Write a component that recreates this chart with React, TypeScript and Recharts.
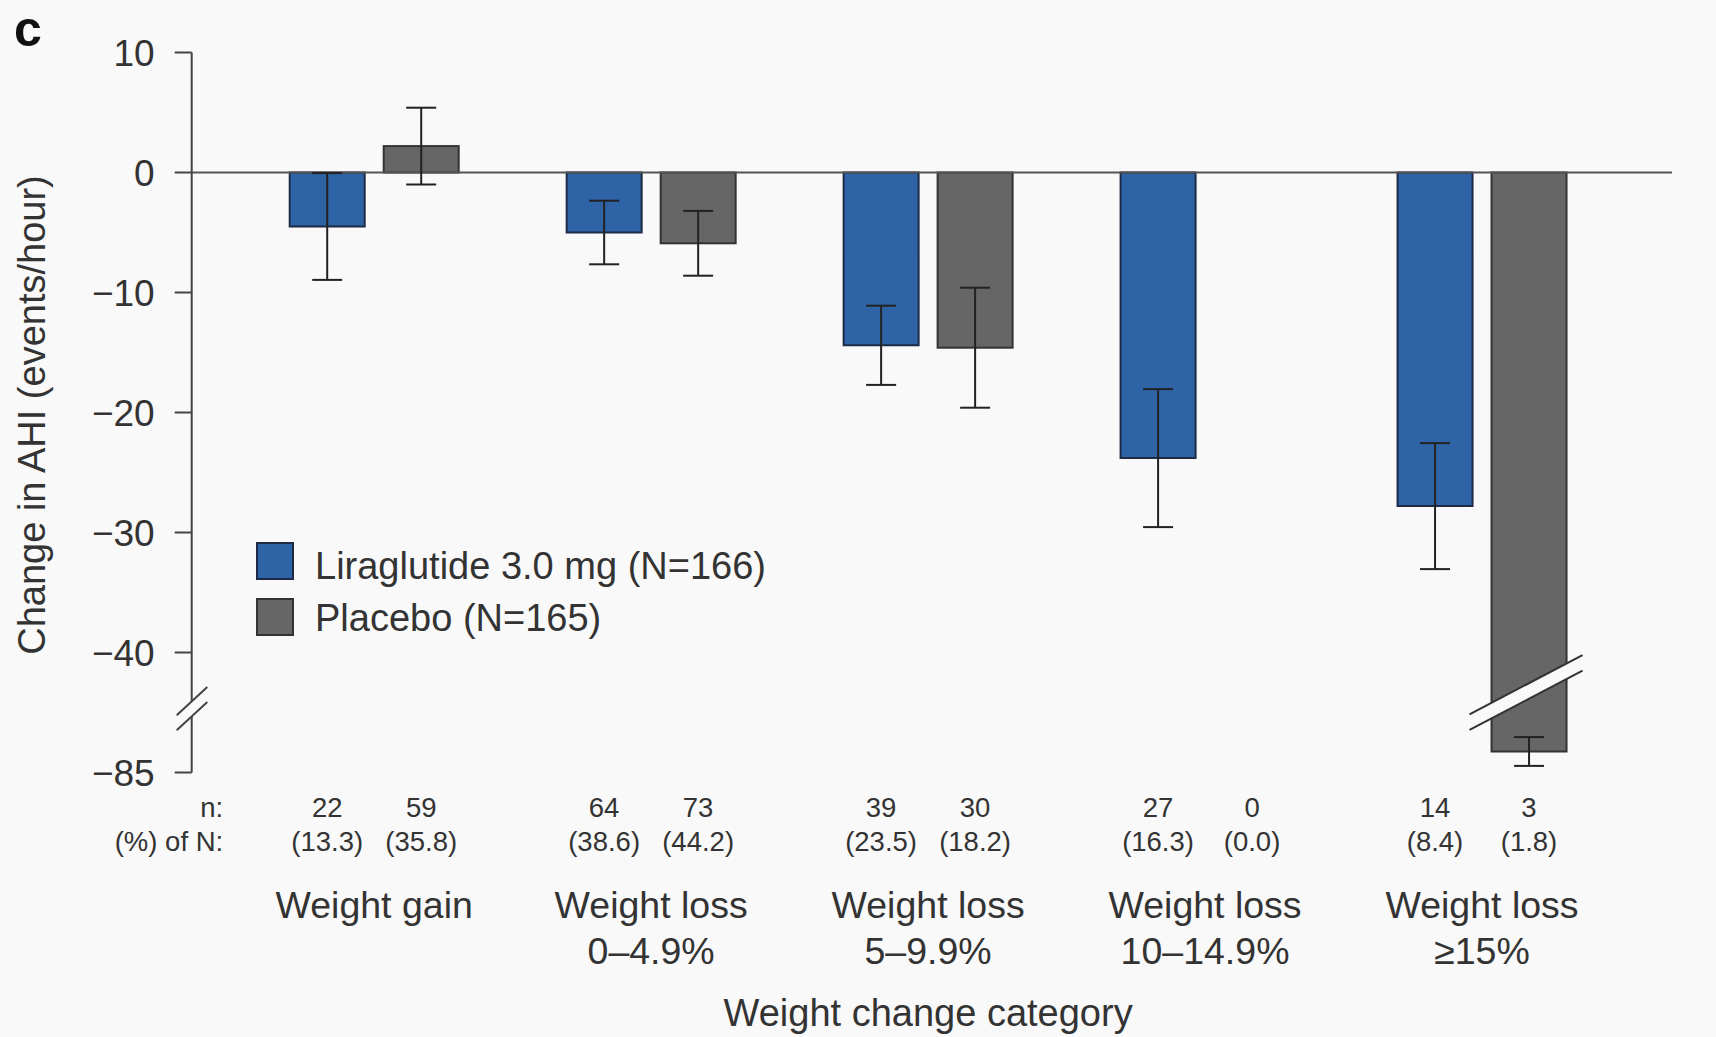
import React from 'react';
import { BarChart, Bar, XAxis, YAxis, ReferenceLine, ErrorBar, Legend, Label } from 'recharts';

// ---------- data ----------
const CATEGORY_LINE1 = ['Weight gain', 'Weight loss', 'Weight loss', 'Weight loss', 'Weight loss'];
const CATEGORY_LINE2 = ['', '0–4.9%', '5–9.9%', '10–14.9%', '≥15%'];
const LIRA_MEAN = [-4.5, -5.0, -14.4, -23.8, -27.8];
const LIRA_ERR = [4.45, 2.65, 3.3, 5.75, 5.25];
const PLACEBO_MEAN: (number | null)[] = [2.2, -5.9, -14.6, null, -83.25];
const PLACEBO_ERR: (number | null)[] = [3.2, 2.7, 5.0, null, 1.2];
const LIRA_N = ['22', '64', '39', '27', '14'];
const LIRA_PCT = ['(13.3)', '(38.6)', '(23.5)', '(16.3)', '(8.4)'];
const PLACEBO_N = ['59', '73', '30', '0', '3'];
const PLACEBO_PCT = ['(35.8)', '(44.2)', '(18.2)', '(0.0)', '(1.8)'];
const SERIES_NAMES = ['Liraglutide 3.0 mg (N=166)', 'Placebo (N=165)'];
const Y_TICK_VALUES = [10, 0, -10, -20, -30, -40, -85];
const Y_TICK_LABELS = ['10', '0', '−10', '−20', '−30', '−40', '−85'];
const Y_TITLE = 'Change in AHI (events/hour)';
const X_TITLE = 'Weight change category';
const ROW_LABELS = ['n:', '(%) of N:'];

// broken axis: values below -40 are drawn shifted up by 35 (so -85 sits where -50 would)
const BREAK_LIMIT = -40;
const BREAK_SHIFT = 35;
const toDisplay = (v: number) => (v < BREAK_LIMIT ? v + BREAK_SHIFT : v);
const AXIS_BREAK_AT = -44.7; // display units
const BAR_BREAK_AT = -43.2; // display units

// ---------- style ----------
const W = 1716;
const H = 1037;
const BG = '#f9f9f9';
const FONT = '"Liberation Sans", Arial, Helvetica, sans-serif';
const TEXT = '#333333';
const AXIS = '#444444';
const BLUE = '#2e63a5';
const BLUE_STROKE = '#1d2b45';
const GRAY = '#666666';
const GRAY_STROKE = '#333333';
const BAR_SIZE = 75;
const BAR_GAP = 19;

const CATEGORY_KEYS = CATEGORY_LINE1.map((c, i) => `${c} ${CATEGORY_LINE2[i]}`.trim());

const data = CATEGORY_KEYS.map((k, i) => ({
  cat: k,
  lira: LIRA_MEAN[i],
  liraErr: LIRA_ERR[i],
  placebo: PLACEBO_MEAN[i] == null ? null : toDisplay(PLACEBO_MEAN[i] as number),
  placeboErr: PLACEBO_ERR[i],
  placeboRaw: PLACEBO_MEAN[i],
}));

const yDisplayTicks = [...Y_TICK_VALUES.map(toDisplay), AXIS_BREAK_AT];

function YTick(props: any) {
  const { x, y, payload } = props;
  const v = payload.value;
  if (Math.abs(v - AXIS_BREAK_AT) < 1e-6) {
    const pts = [
      [x - 15, y + 6.4],
      [x + 15.6, y - 22],
      [x + 15.6, y - 7],
      [x - 15, y + 21.4],
    ];
    return (
      <g>
        <polygon points={pts.map((p) => p.join(',')).join(' ')} fill={BG} stroke="none" />
        <line x1={pts[0][0]} y1={pts[0][1]} x2={pts[1][0]} y2={pts[1][1]} stroke={AXIS} strokeWidth={2} />
        <line x1={pts[3][0]} y1={pts[3][1]} x2={pts[2][0]} y2={pts[2][1]} stroke={AXIS} strokeWidth={2} />
      </g>
    );
  }
  const idx = Y_TICK_VALUES.map(toDisplay).findIndex((t) => Math.abs(t - v) < 1e-6);
  const label = idx >= 0 ? Y_TICK_LABELS[idx] : String(v);
  return (
    <g>
      <line x1={x - 17} x2={x} y1={y} y2={y} stroke={AXIS} strokeWidth={2} />
      <text x={x - 37} y={y + 13.2} textAnchor="end" fontSize={37} fontFamily={FONT} fill={TEXT}>
        {label}
      </text>
    </g>
  );
}

function XTick(props: any) {
  const { x, y, payload } = props;
  const i = payload.index;
  const off = (BAR_SIZE + BAR_GAP) / 2;
  return (
    <g fontFamily={FONT} fill={TEXT}>
      {i === 0 && (
        <>
          <text x={x - 151} y={y + 44.8} textAnchor="end" fontSize={27.5}>{ROW_LABELS[0]}</text>
          <text x={x - 151} y={y + 78.2} textAnchor="end" fontSize={27.5}>{ROW_LABELS[1]}</text>
        </>
      )}
      <text x={x - off} y={y + 44.8} textAnchor="middle" fontSize={27.5}>{LIRA_N[i]}</text>
      <text x={x + off} y={y + 44.8} textAnchor="middle" fontSize={27.5}>{PLACEBO_N[i]}</text>
      <text x={x - off} y={y + 78.2} textAnchor="middle" fontSize={27.5}>{LIRA_PCT[i]}</text>
      <text x={x + off} y={y + 78.2} textAnchor="middle" fontSize={27.5}>{PLACEBO_PCT[i]}</text>
      <text x={x} y={y + 145.5} textAnchor="middle" fontSize={37.5}>{CATEGORY_LINE1[i]}</text>
      {CATEGORY_LINE2[i] && (
        <text x={x} y={y + 191.5} textAnchor="middle" fontSize={37.5}>{CATEGORY_LINE2[i]}</text>
      )}
      {i === 2 && (
        <text x={x} y={y + 253} textAnchor="middle" fontSize={38}>{X_TITLE}</text>
      )}
    </g>
  );
}

function PlaceboShape(props: any) {
  const { x, y, width, height, fill, payload } = props;
  if (x == null || y == null || !width) return null;
  const top = Math.min(y, y + height);
  const h = Math.abs(height);
  const rect = <rect x={x} y={top} width={width} height={h} fill={fill} stroke={GRAY_STROKE} strokeWidth={2} />;
  if (payload.placeboRaw == null || payload.placeboRaw >= BREAK_LIMIT) return rect;
  const v = Math.abs(payload.placebo);
  const yc = top + (h * Math.abs(BAR_BREAK_AT)) / v;
  const cx = x + width / 2;
  const slope = 0.525;
  const half = 7.8;
  const xl = x - 22;
  const xr = x + width + 16;
  const ly = (xi: number, d: number) => yc - slope * (xi - cx) + d;
  return (
    <g>
      {rect}
      <polygon
        points={`${xl},${ly(xl, -half)} ${xr},${ly(xr, -half)} ${xr},${ly(xr, half)} ${xl},${ly(xl, half)}`}
        fill={BG}
      />
      <line x1={xl} y1={ly(xl, -half)} x2={xr} y2={ly(xr, -half)} stroke={GRAY_STROKE} strokeWidth={2} />
      <line x1={xl} y1={ly(xl, half)} x2={xr} y2={ly(xr, half)} stroke={GRAY_STROKE} strokeWidth={2} />
    </g>
  );
}

function YTitle(props: any) {
  const vb = props.viewBox || { x: 0, y: 52.5, width: 191.7, height: 720 };
  const cx = vb.x + 45;
  const cy = vb.y + vb.height / 2 + 2.5;
  return (
    <text
      x={cx}
      y={cy}
      transform={`rotate(-90 ${cx} ${cy})`}
      textAnchor="middle"
      fontSize={38}
      fontFamily={FONT}
      fill={TEXT}
    >
      {Y_TITLE}
    </text>
  );
}

function LegendBox() {
  const colors = [
    [BLUE, BLUE_STROKE],
    [GRAY, GRAY_STROKE],
  ];
  return (
    <svg width={540} height={100} style={{ display: 'block' }}>
      {SERIES_NAMES.map((name, i) => (
        <g key={name}>
          <rect x={1} y={1 + i * 56} width={36} height={36} fill={colors[i][0]} stroke={colors[i][1]} strokeWidth={2} />
          <text x={59} y={36.5 + i * 52.4} fontSize={38} fontFamily={FONT} fill={TEXT}>
            {name}
          </text>
        </g>
      ))}
    </svg>
  );
}

export default function App() {
  return (
    <div style={{ position: 'absolute', left: 0, top: 0, width: W, height: H, background: BG, overflow: 'hidden' }}>
      <div
        style={{
          position: 'absolute',
          left: 14,
          top: 4,
          fontFamily: FONT,
          fontWeight: 'bold',
          fontSize: 50,
          lineHeight: '50px',
          color: '#111',
        }}
      >
        c
      </div>
      <BarChart
        width={W}
        height={H}
        data={data}
        margin={{ top: 52.5, right: 44, left: 0, bottom: 0 }}
        barGap={BAR_GAP}
        barSize={BAR_SIZE}
      >
        <XAxis
          dataKey="cat"
          height={264.5}
          axisLine={false}
          tickLine={false}
          tickSize={0}
          tickMargin={0}
          interval={0}
          padding={{ left: 44, right: 51.5 }}
          tick={<XTick />}
        />
        <YAxis
          width={191.7}
          type="number"
          domain={[-50, 10]}
          ticks={yDisplayTicks}
          interval={0}
          allowDataOverflow
          axisLine={{ stroke: AXIS, strokeWidth: 2 }}
          tickLine={false}
          tickSize={0}
          tickMargin={0}
          tick={<YTick />}
        >
          <Label content={<YTitle />} />
        </YAxis>
        <ReferenceLine y={0} stroke="#555" strokeWidth={2} />
        <Legend
          layout="vertical"
          align="center"
          verticalAlign="middle"
          wrapperStyle={{ left: 256, top: 542, width: 540, height: 100 }}
          content={<LegendBox />}
        />
        <Bar dataKey="lira" fill={BLUE} stroke={BLUE_STROKE} strokeWidth={2} isAnimationActive={false}>
          <ErrorBar dataKey="liraErr" width={15} stroke="#222" strokeWidth={2} direction="y" />
        </Bar>
        <Bar dataKey="placebo" fill={GRAY} shape={<PlaceboShape />} isAnimationActive={false}>
          <ErrorBar dataKey="placeboErr" width={15} stroke="#222" strokeWidth={2} direction="y" />
        </Bar>
      </BarChart>
    </div>
  );
}
